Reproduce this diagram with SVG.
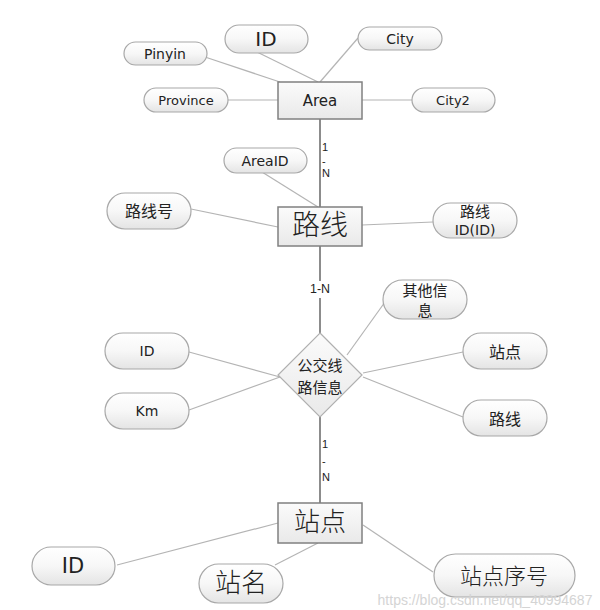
<svg xmlns="http://www.w3.org/2000/svg" width="600" height="610" viewBox="0 0 600 610">
<defs>
<linearGradient id="pg" x1="0" y1="0" x2="0" y2="1">
<stop offset="0" stop-color="#ffffff"/>
<stop offset="0.5" stop-color="#f7f7f7"/>
<stop offset="1" stop-color="#e4e4e4"/>
</linearGradient>
<linearGradient id="rg" x1="0" y1="0" x2="0" y2="1">
<stop offset="0" stop-color="#fbfbfb"/>
<stop offset="1" stop-color="#e9e9e9"/>
</linearGradient>
<style>
.pill{fill:url(#pg);stroke:#a8a8a8;stroke-width:1.2}
.ent{fill:url(#rg);stroke:#808080;stroke-width:1.5}
.rel{fill:url(#rg);stroke:#b0b0b0;stroke-width:1.2}
.att{stroke:#b4b4b4;stroke-width:1.2;fill:none}
.main{stroke:#8c8c8c;stroke-width:2;fill:none}
text{fill:#222;text-anchor:middle;dominant-baseline:central}
.lt{font-family:"DejaVu Sans","Noto Sans",sans-serif}
.cj{font-family:"Noto Sans CJK SC",sans-serif}
.cjs{font-family:"Liberation Serif","Noto Sans CJK SC",serif;font-weight:300}
.card{font-family:"Liberation Sans",sans-serif;font-size:11px;text-anchor:start}
</style>
</defs>
<rect width="600" height="610" fill="#ffffff"/>
<g id="connectors">
<line class="att" x1="257" y1="52" x2="318" y2="82"/>
<line class="att" x1="358" y1="38" x2="320" y2="82"/>
<line class="att" x1="205" y1="57" x2="280" y2="82"/>
<line class="att" x1="228" y1="100" x2="278" y2="100"/>
<line class="att" x1="362" y1="100" x2="412" y2="100"/>
<line class="main" x1="320" y1="119" x2="320" y2="207"/>
<line class="att" x1="262" y1="172" x2="318" y2="207"/>
<line class="att" x1="191" y1="209" x2="278" y2="227"/>
<line class="att" x1="362" y1="225" x2="433" y2="222"/>
<line class="main" x1="320" y1="246" x2="320" y2="333"/>
<line class="att" x1="189" y1="352" x2="280" y2="377"/>
<line class="att" x1="189" y1="410" x2="280" y2="377"/>
<line class="att" x1="385" y1="302" x2="347" y2="355"/>
<line class="att" x1="463" y1="352" x2="363" y2="373"/>
<line class="att" x1="463" y1="417" x2="363" y2="377"/>
<line class="main" x1="320" y1="417" x2="320" y2="503"/>
<line class="att" x1="117" y1="565" x2="278" y2="523"/>
<line class="att" x1="275" y1="565" x2="318" y2="543"/>
<line class="att" x1="433" y1="572" x2="363" y2="525"/>
<text class="card" x="322" y="147">1</text>
<text class="card" x="322" y="161">-</text>
<text class="card" x="322" y="173">N</text>
<rect x="308" y="281" width="24" height="17" fill="#ffffff"/>
<text x="320" y="289" style="font-family:'Liberation Sans',sans-serif;font-size:12px;font-stretch:condensed" textLength="20" lengthAdjust="spacingAndGlyphs">1-N</text>
<text class="card" x="322" y="444">1</text>
<text class="card" x="322" y="461">-</text>
<text class="card" x="322" y="477">N</text>
</g>
<g id="n-id1"><rect class="pill" x="225" y="25" width="83" height="28" rx="14"/><text class="lt" x="266" y="39" font-size="20">ID</text></g>
<g id="n-city"><rect class="pill" x="358" y="27" width="84" height="23" rx="11.5"/><text class="lt" x="400" y="38.5" font-size="14">City</text></g>
<g id="n-pinyin"><rect class="pill" x="124" y="42" width="83" height="23" rx="11.5"/><text class="lt" x="165" y="53.5" font-size="14">Pinyin</text></g>
<g id="n-province"><rect class="pill" x="144" y="88" width="84" height="24" rx="12"/><text class="lt" x="186" y="100" font-size="13">Province</text></g>
<g id="n-area"><rect class="ent" x="278" y="82" width="84" height="37"/><text class="lt" x="320" y="100.5" font-size="15">Area</text></g>
<g id="n-city2"><rect class="pill" x="412" y="88" width="83" height="24" rx="12"/><text class="lt" x="453" y="100" font-size="13">City2</text></g>
<g id="n-areaid"><rect class="pill" x="224" y="148" width="83" height="25" rx="12.5"/><text class="lt" x="265" y="161" font-size="14">AreaID</text></g>
<g id="n-luxianhao"><rect class="pill" x="107" y="193" width="84" height="36" rx="18"/><text class="cj" x="149" y="210" font-size="16">路线号</text></g>
<g id="n-luxian"><rect class="ent" x="278" y="207" width="84" height="39"/><text class="cjs" x="320" y="225" font-size="28">路线</text></g>
<g id="n-luxianid"><rect class="pill" x="433" y="203" width="84" height="35" rx="17.5"/><text class="cj" x="475" y="210" font-size="15">路线</text><text class="lt" x="475" y="230" font-size="14">ID(ID)</text></g>
<g id="n-qita"><rect class="pill" x="383" y="280" width="84" height="39" rx="19.5"/><text class="cj" x="425" y="289" font-size="15">其他信</text><text class="cj" x="425" y="309" font-size="15">息</text></g>
<g id="n-gongjiao"><polygon class="rel" points="320,333 362,375 320,417 278,375"/><text class="cj" x="320" y="364" font-size="15" fill="#333">公交线</text><text class="cj" x="320" y="386" font-size="15" fill="#333">路信息</text></g>
<g id="n-id2"><rect class="pill" x="105" y="333" width="84" height="36" rx="18"/><text class="lt" x="147" y="351" font-size="14">ID</text></g>
<g id="n-km"><rect class="pill" x="105" y="393" width="84" height="36" rx="18"/><text class="lt" x="147" y="411" font-size="14">Km</text></g>
<g id="n-zhandian-a"><rect class="pill" x="463" y="333" width="84" height="36" rx="18"/><text class="cj" x="505" y="351" font-size="16">站点</text></g>
<g id="n-luxian-a"><rect class="pill" x="463" y="400" width="84" height="36" rx="18"/><text class="cj" x="505" y="418" font-size="16">路线</text></g>
<g id="n-zhandian"><rect class="ent" x="278" y="503" width="84" height="40"/><text class="cjs" x="320" y="522" font-size="26">站点</text></g>
<g id="n-id3"><rect class="pill" x="32" y="547" width="83" height="38" rx="19"/><text class="lt" x="73" y="566" font-size="21">ID</text></g>
<g id="n-zhanming"><rect class="pill" x="199" y="564" width="84" height="39" rx="19.5"/><text class="cjs" x="241" y="583" font-size="26">站名</text></g>
<g id="n-xuhao"><rect class="pill" x="434" y="554" width="141" height="43" rx="21.5"/><text class="cjs" x="504" y="576" font-size="22">站点序号</text></g>
<text x="485" y="600" style="font-family:'Liberation Sans',sans-serif;font-size:14px;fill:#d4d4d4">https://blog.csdn.net/qq_40994687</text>
</svg>
